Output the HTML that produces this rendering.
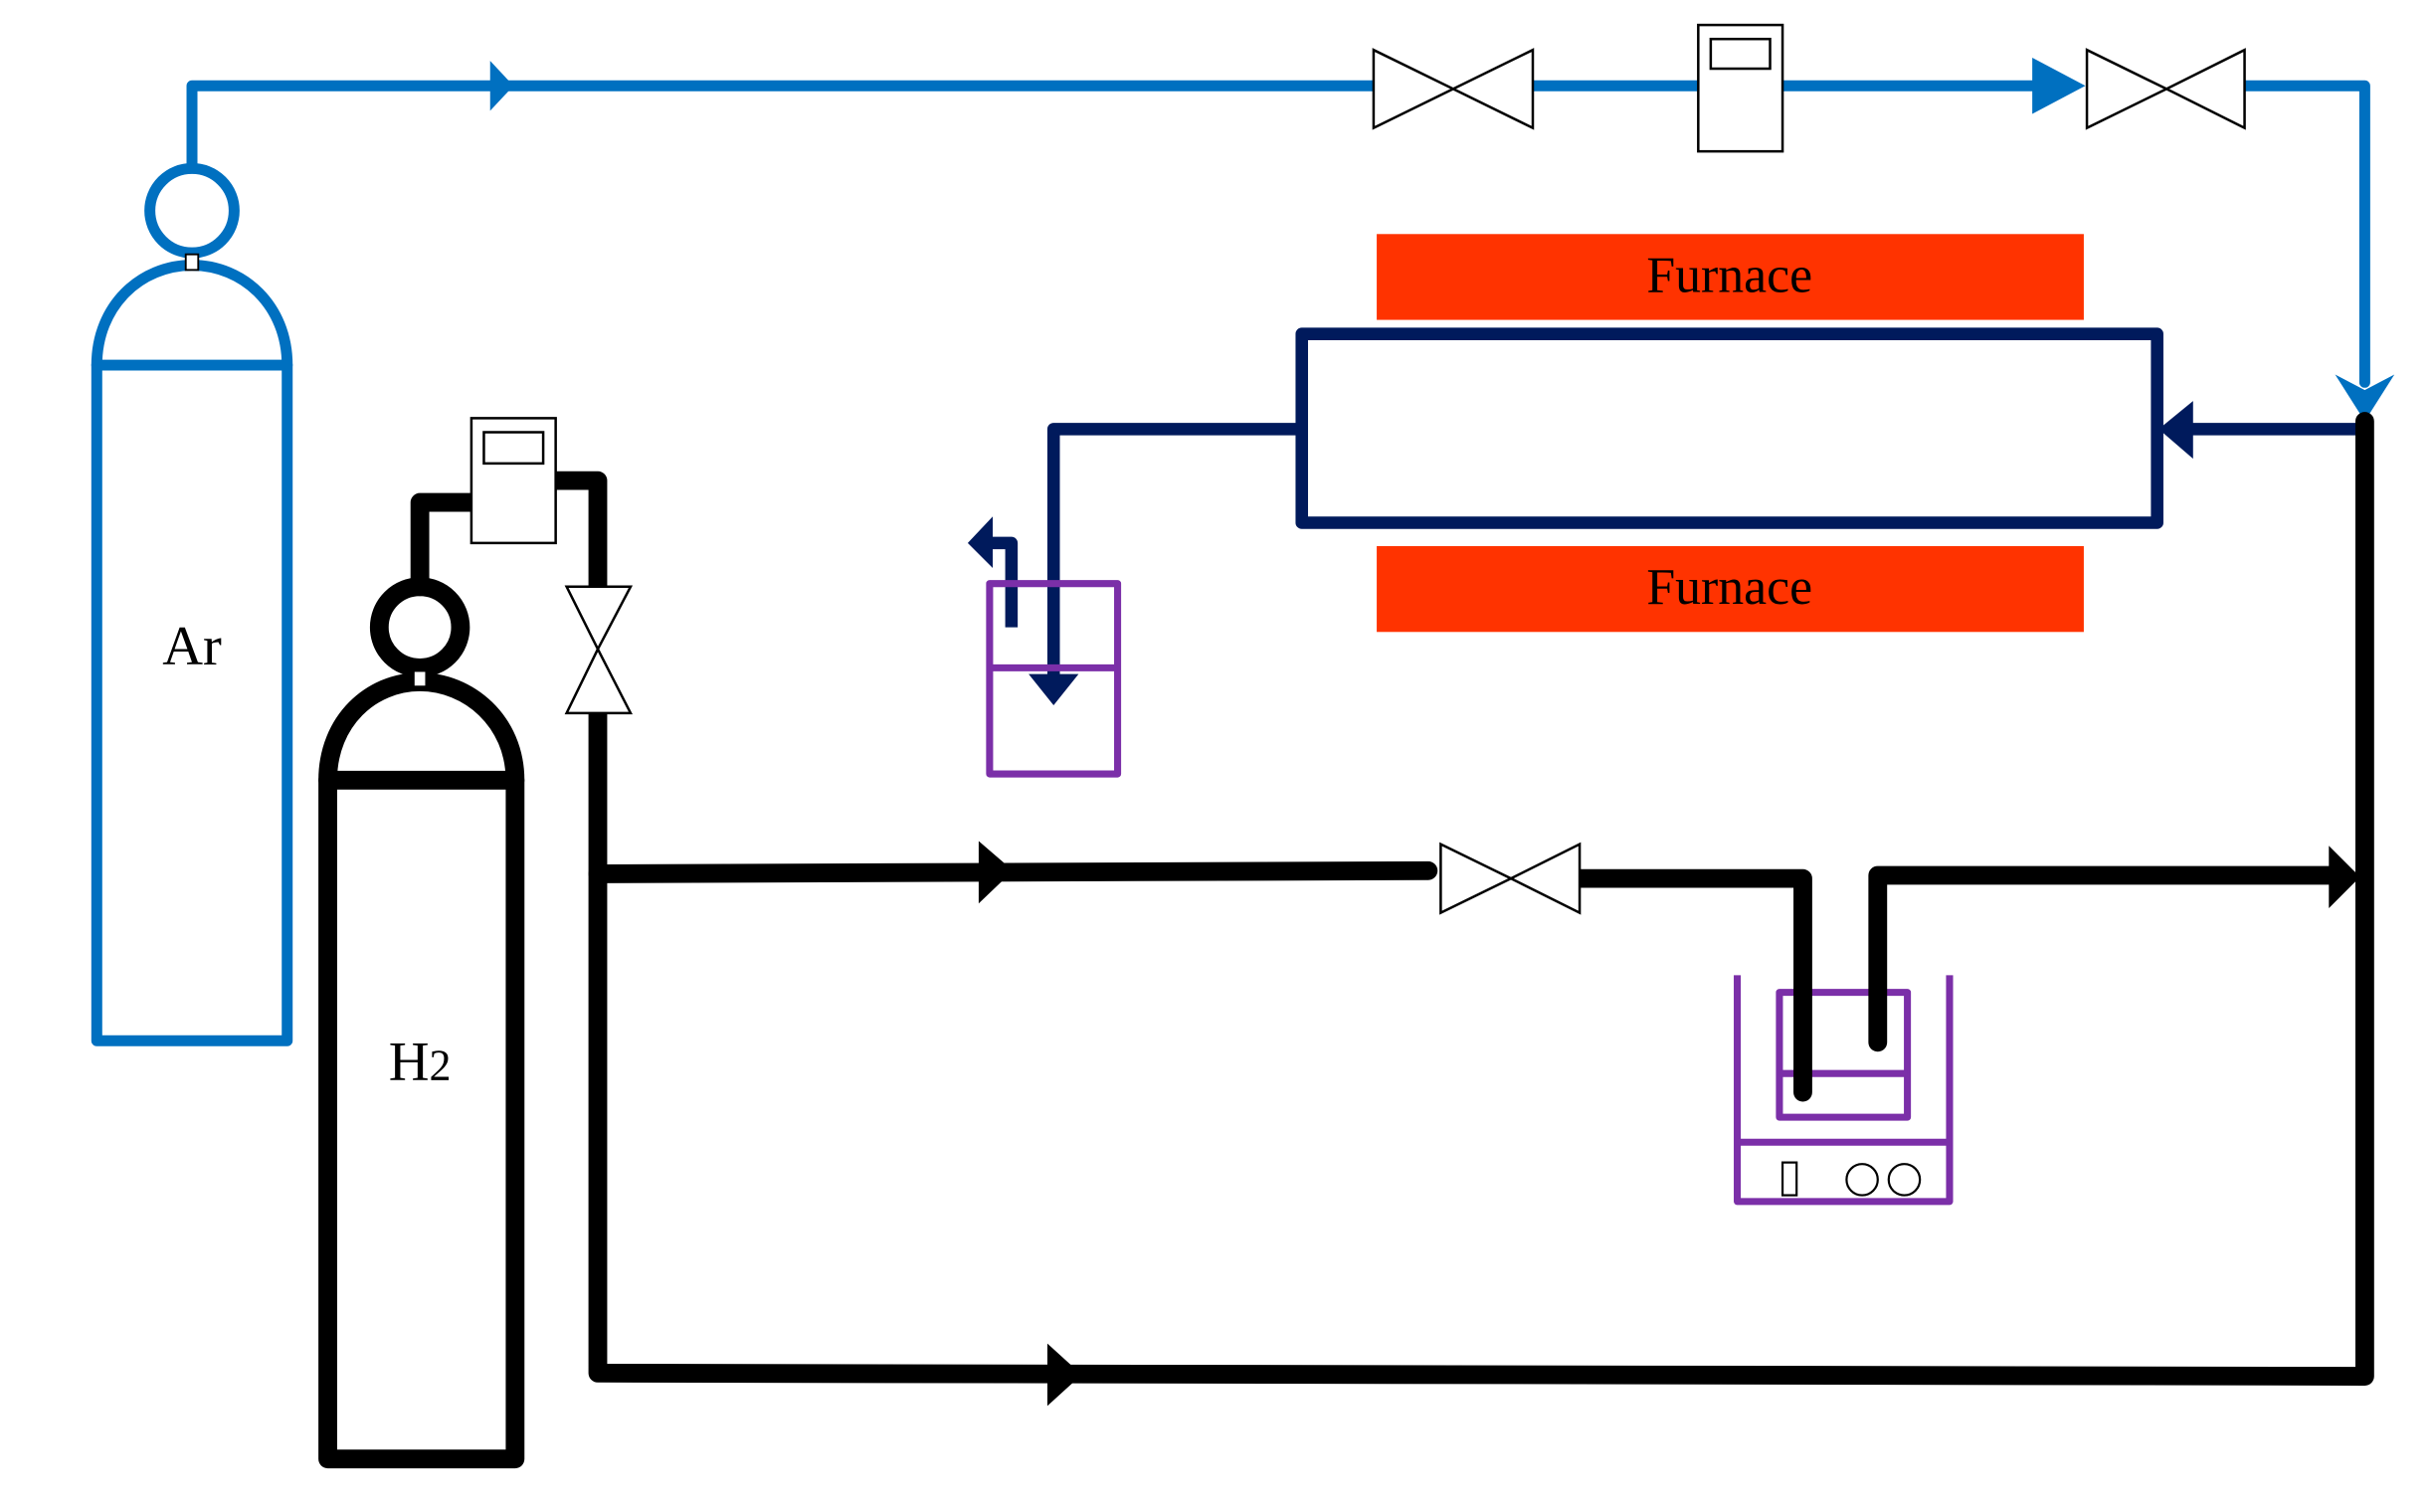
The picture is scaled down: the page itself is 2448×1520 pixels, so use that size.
<!DOCTYPE html>
<html><head><meta charset="utf-8"><style>html,body{margin:0;padding:0;background:#fff}svg{display:block}</style></head>
<body>
<svg width="2448" height="1520" viewBox="0 0 1560 969" preserveAspectRatio="none" xmlns="http://www.w3.org/2000/svg">
<rect width="1560" height="969" fill="#fff"/>
<!-- Furnaces -->
<rect x="882" y="150" width="453" height="55" fill="#ff3300"/>
<rect x="882" y="350" width="453" height="55" fill="#ff3300"/>
<text x="1108" y="187" font-family="Liberation Serif, serif" font-size="33" text-anchor="middle" fill="#000">Furnace</text>
<text x="1108" y="387" font-family="Liberation Serif, serif" font-size="33" text-anchor="middle" fill="#000">Furnace</text>

<!-- Blue Ar line -->
<g stroke="#0070c0" stroke-width="7" fill="none" stroke-linejoin="round" stroke-linecap="round">
<polyline points="123,107 123,55 880,55"/>
<line x1="982" y1="55" x2="1088" y2="55"/>
<line x1="1142" y1="55" x2="1305" y2="55"/>
<polyline points="1438,55 1515,55 1515,245"/>
<path d="M62,667 L62,234 C62,196 90,170 123,170 C156,170 184,196 184,234 L184,667 Z"/>
<line x1="62" y1="234" x2="184" y2="234"/>
<circle cx="123" cy="135" r="27"/>
</g>
<g fill="#0070c0">
<polygon points="314,39 314,71 329,55"/>
<polygon points="1302,37 1302,73 1336,55 "/>
<polygon points="1496,240 1515,270 1534,240 1515,250"/>
</g>
<rect x="119" y="163" width="8" height="10" fill="#fff" stroke="#000" stroke-width="1.2"/>
<text x="123" y="426" font-family="Liberation Serif, serif" font-size="36" text-anchor="middle">Ar</text>

<!-- Top valves & MFC -->
<g stroke="#000" stroke-width="1.6" fill="#fff">
<polygon points="880,32 880,82 931,57"/><polygon points="982,32 982,82 931,57"/>
<polygon points="1337,32 1337,82 1388,57"/><polygon points="1438,32 1438,82 1388,57"/>
<rect x="1088" y="16" width="54" height="81"/>
<rect x="1096" y="25" width="38" height="19"/>
</g>

<!-- Navy tube and lines -->
<g stroke="#001a5c" stroke-width="8" fill="none" stroke-linejoin="round">
<rect x="834" y="214" width="548" height="121"/>
<line x1="1515" y1="275" x2="1400" y2="275"/>
<polyline points="834,275 675,275 675,438"/>
<polyline points="648,402 648,348 634,348"/>
</g>
<g fill="#001a5c">
<polygon points="1383,275 1405,257 1405,294"/>
<polygon points="659,432 691,432 675,452"/>
<polygon points="620,348 636,331 636,364"/>
</g>

<!-- Purple bubblers -->
<g stroke="#7b2fa8" stroke-width="4.5" fill="none" stroke-linejoin="round">
<rect x="634" y="374" width="82" height="122"/>
<line x1="634" y1="428" x2="716" y2="428"/>
<polyline points="1113,625 1113,770 1249,770 1249,625"/>
<line x1="1113" y1="732" x2="1249" y2="732"/>
<rect x="1140" y="636" width="82" height="80"/>
<line x1="1140" y1="688" x2="1222" y2="688"/>
</g>
<g stroke="#000" stroke-width="1.4" fill="#fff">
<rect x="1142" y="745" width="9" height="21"/>
<circle cx="1193" cy="756" r="10"/>
<circle cx="1220" cy="756" r="10"/>
</g>

<!-- Black H2 lines -->
<g stroke="#000" stroke-width="12" fill="none" stroke-linejoin="round" stroke-linecap="round">
<path d="M210,935 L210,500 C210,462 238,437 269,437 C300,437 330,462 330,500 L330,935 Z"/>
<line x1="210" y1="500" x2="330" y2="500"/>
<circle cx="269" cy="402" r="26"/>
<polyline points="269,376 269,322 302,322"/>
<polyline points="356,308 383,308 383,378"/>
<polyline points="383,457 383,880 1515,882 1515,270"/>
<polyline points="383,560 915,558"/>
<polyline points="1012,563 1155,563 1155,700"/>
<polyline points="1203,668 1203,561 1500,561"/>
</g>
<g fill="#000">
<polygon points="627,539 627,579 649,558"/>
<polygon points="1492,542 1492,582 1512,562"/>
<polygon points="671,861 671,901 693,881"/>
</g>
<rect x="265" y="430" width="8" height="10" fill="#fff" stroke="#000" stroke-width="1.2"/>
<g stroke="#000" stroke-width="1.6" fill="#fff">
<rect x="302" y="268" width="54" height="80"/>
<rect x="310" y="277" width="38" height="20"/>
<polygon points="363,376 404,376 383,416"/><polygon points="363,457 404,457 383,416"/>
<polygon points="923,541 923,585 968,563"/><polygon points="1012,541 1012,585 968,563"/>
</g>
<text x="269" y="692" font-family="Liberation Serif, serif" font-size="36" text-anchor="middle">H<tspan font-size="28">2</tspan></text>
</svg>
</body></html>
